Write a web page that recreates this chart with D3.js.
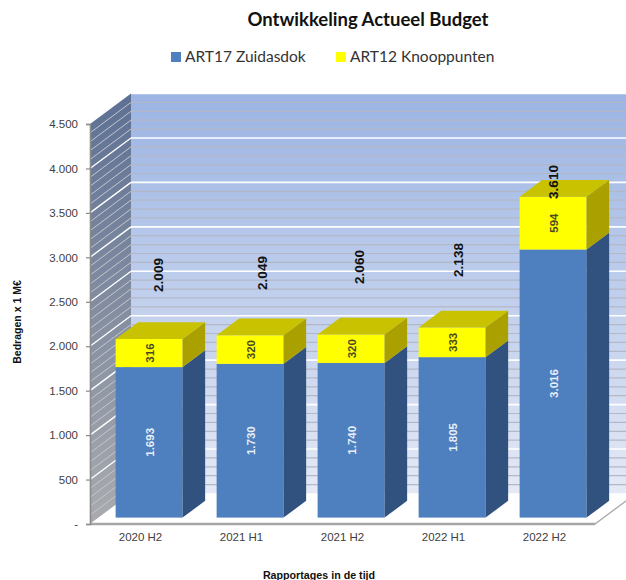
<!DOCTYPE html>
<html>
<head>
<meta charset="utf-8">
<script src="https://cdnjs.cloudflare.com/ajax/libs/d3/7.8.5/d3.min.js"></script>
<style>
html, body { margin: 0; padding: 0; background: #fff; }
svg { display: block; }
</style>
</head>
<body>
<svg id="chart"></svg>
<script>
var width = 626
var height = 580

var periods = ["2020 H2", "2021 H1", "2021 H2", "2022 H1", "2022 H2"]
var art17 = [1693, 1730, 1740, 1805, 3016]
var art12 = [316, 320, 320, 333, 594]
var totals = [2009, 2049, 2060, 2138, 3610]
var seriesNames = ["ART17 Zuidasdok", "ART12 Knooppunten"]
var yTicks = [0, 500, 1000, 1500, 2000, 2500, 3000, 3500, 4000, 4500]
var minorTicks = d3.range(0, 4501, 100)

// where the total labels sit, not tied to the bar tops in the original
var totalLabelX = [158, 262, 359, 458, 553]
var totalLabelY = [275, 273, 267, 260, 182]

var x = d3.scaleBand().domain(periods).range([90, 595]).paddingInner(0.337).paddingOuter(0.1685)
var y = d3.scaleLinear().domain([0, 4500]).range([524, 124])

// fake 3d: depth 0 is the front of the floor, depth 1 the back wall
var depthX = 41
var depthY = -30.5
var barFront = 0.21
var barBack = 0.76
function px(v, d) { return v + depthX * d }
function py(v, d) { return v + depthY * d }
function poly(points) { return points.map(function(p) { return p.join(",") }).join(" ") }

var fmt = function(v) { return v === 0 ? "-" : d3.format(",")(v).replace(/,/g, ".") }

var svg = d3.select("#chart").attr("width", width).attr("height", height)
  .attr("viewBox", "0 0 " + width + " " + height)

var defs = svg.append("defs")
var backGrad = defs.append("linearGradient").attr("id", "backWall").attr("x1", 0).attr("y1", 0).attr("x2", 0).attr("y2", 1)
backGrad.append("stop").attr("offset", "0%").attr("stop-color", "#9bb4e3")
backGrad.append("stop").attr("offset", "100%").attr("stop-color", "#e4e9f5")
var sideGrad = defs.append("linearGradient").attr("id", "sideWall").attr("x1", 0).attr("y1", 0).attr("x2", 0).attr("y2", 1)
sideGrad.append("stop").attr("offset", "0%").attr("stop-color", "#5d7094")
sideGrad.append("stop").attr("offset", "100%").attr("stop-color", "#a9abae")

var x0 = x.range()[0]
var x1 = x.range()[1]

// back wall
svg.append("rect")
  .attr("x", px(x0, 1)).attr("y", py(y(4500), 1))
  .attr("width", x1 + depthX - px(x0, 1)).attr("height", y(0) - y(4500))
  .attr("fill", "url(#backWall)")

// left wall
svg.append("polygon")
  .attr("points", poly([[x0, y(4500)], [px(x0, 1), py(y(4500), 1)], [px(x0, 1), py(y(0), 1)], [x0, y(0)]]))
  .attr("fill", "url(#sideWall)")

function isMajor(d) { return d % 500 === 0 }

svg.append("g").selectAll("line")
  .data(minorTicks.filter(function(d) { return d > 0 }).sort(function(a, b) { return isMajor(a) - isMajor(b) }))
  .enter().append("line")
  .attr("x1", px(x0, 1)).attr("x2", x1 + depthX)
  .attr("y1", function(d) { return py(y(d), 1) }).attr("y2", function(d) { return py(y(d), 1) })
  .attr("stroke", function(d) { return isMajor(d) ? "#ffffff" : "#b4b8c6" })
  .attr("stroke-width", function(d) { return isMajor(d) ? 1.6 : 1.2 })

svg.append("g").selectAll("line")
  .data(minorTicks.filter(function(d) { return d > 0 && d < 4500 }))
  .enter().append("line")
  .attr("x1", x0).attr("x2", px(x0, 1))
  .attr("y1", function(d) { return y(d) }).attr("y2", function(d) { return py(y(d), 1) })
  .attr("stroke", function(d) { return isMajor(d) ? "#ffffff" : "#c3c7ce" })
  .attr("stroke-width", function(d) { return isMajor(d) ? 1.4 : 1 })

// floor, white on white, only the edges show
svg.append("polygon")
  .attr("points", poly([[x0, y(0)], [px(x0, 1), py(y(0), 1)], [x1 + depthX, py(y(0), 1)], [x1, y(0)]]))
  .attr("fill", "#fff")
svg.append("line")
  .attr("x1", x1).attr("x2", x1 + depthX).attr("y1", y(0)).attr("y2", py(y(0), 1))
  .attr("stroke", "#a6a6a6").attr("stroke-width", 1.3)
svg.append("line")
  .attr("x1", x0).attr("x2", x1).attr("y1", y(0)).attr("y2", y(0))
  .attr("stroke", "#a6a6a6").attr("stroke-width", 2.4)

function drawSegment(g, i, from, to, front, side, top) {
  var l = px(x(periods[i]), barFront)
  var r = l + x.bandwidth()
  var bd = barBack - barFront
  var yb = py(y(from), barFront)
  var yt = py(y(to), barFront)
  g.append("rect").attr("x", l).attr("y", yt).attr("width", r - l).attr("height", yb - yt).attr("fill", front)
  g.append("polygon")
    .attr("points", poly([[r, yb], [r, yt], [px(r, bd), py(yt, bd)], [px(r, bd), py(yb, bd)]]))
    .attr("fill", side)
  if (top) {
    g.append("polygon")
      .attr("points", poly([[l, yt], [r, yt], [px(r, bd), py(yt, bd)], [px(l, bd), py(yt, bd)]]))
      .attr("fill", top)
  }
}

var bars = svg.append("g")
periods.forEach(function(p, i) {
  var g = bars.append("g")
  drawSegment(g, i, 0, art17[i], "#4e7fbe", "#31527e", null)
  drawSegment(g, i, art17[i], art17[i] + art12[i], "#ffff00", "#aaa000", "#c8c200")
})

function rotatedText(parent, tx, ty, str) {
  return parent.append("text")
    .attr("transform", "translate(" + tx + "," + ty + ") rotate(-90)")
    .attr("text-anchor", "middle")
    .attr("dominant-baseline", "central")
    .text(str)
}

var labels = svg.append("g").attr("font-family", "'Liberation Sans', Arial, sans-serif")
periods.forEach(function(p, i) {
  var cx = px(x(p), barFront) + x.bandwidth() / 2
  rotatedText(labels, cx + 1, py(y(art17[i] / 2), barFront), fmt(art17[i]))
    .attr("fill", "#e8eff8").attr("font-size", 11.5).attr("font-weight", "bold")
  rotatedText(labels, cx + 1, py(y(art17[i] + art12[i] / 2), barFront), fmt(art12[i]))
    .attr("fill", "#4a4a20").attr("font-size", 11.5).attr("font-weight", "bold")
  rotatedText(labels, totalLabelX[i], totalLabelY[i], fmt(totals[i]))
    .attr("fill", "#111").attr("font-size", 13.5).attr("font-weight", "bold")
})

// y axis
var yAxis = svg.append("g")
  .attr("transform", "translate(" + x0 + ",0)")
  .call(d3.axisLeft(y).tickValues(yTicks).tickFormat(fmt).tickSize(4).tickPadding(8))
yAxis.select(".domain").attr("stroke", "#8a8a8a").attr("stroke-width", 1.6)
yAxis.selectAll(".tick line").attr("stroke", "#8a8a8a").attr("stroke-width", 1.2)
yAxis.selectAll("text")
  .attr("font-family", "'Liberation Sans', Arial, sans-serif").attr("font-size", 11.5).attr("fill", "#404040")

// x axis
var xAxis = svg.append("g")
  .attr("transform", "translate(0," + y(0) + ")")
  .call(d3.axisBottom(x).tickSize(0).tickPadding(9))
xAxis.select(".domain").remove()
xAxis.selectAll("text")
  .attr("font-family", "'Liberation Sans', Arial, sans-serif").attr("font-size", 11.5).attr("fill", "#404040")

// titles
svg.append("text").attr("x", 368).attr("y", 26).attr("text-anchor", "middle")
  .attr("font-family", "Lato, sans-serif").attr("font-weight", "bold").attr("font-size", 18.5).attr("fill", "#111")
  .text("Ontwikkeling Actueel Budget")

svg.append("text")
  .attr("transform", "translate(21,322) rotate(-90)").attr("text-anchor", "middle")
  .attr("font-family", "'Liberation Sans', Arial, sans-serif").attr("font-weight", "bold").attr("font-size", 10.5).attr("fill", "#111")
  .text("Bedragen x 1 M€")

svg.append("text").attr("x", 319).attr("y", 579).attr("text-anchor", "middle")
  .attr("font-family", "'Liberation Sans', Arial, sans-serif").attr("font-weight", "bold").attr("font-size", 10.7).attr("fill", "#111")
  .text("Rapportages in de tijd")

// legend
var legendX = [171, 336]
var legendColors = ["#4e7fbe", "#ffff00"]
seriesNames.forEach(function(name, i) {
  svg.append("rect").attr("x", legendX[i]).attr("y", 52).attr("width", 10).attr("height", 10).attr("fill", legendColors[i])
  svg.append("text").attr("x", legendX[i] + 14).attr("y", 62)
    .attr("font-family", "Lato, sans-serif").attr("font-size", 15.5).attr("fill", "#333")
    .text(name)
})
</script>
</body>
</html>
